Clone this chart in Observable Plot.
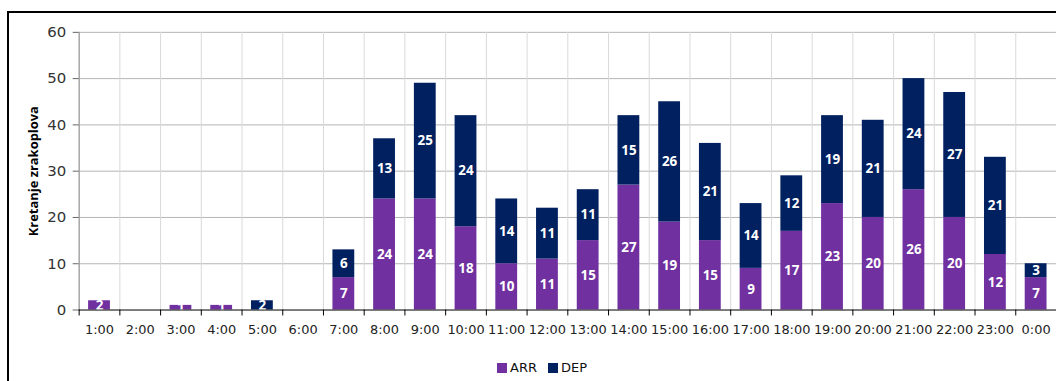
<!DOCTYPE html>
<html>
<head>
<meta charset="utf-8">
<script src="https://cdn.jsdelivr.net/npm/d3@7"></script>
<script src="https://cdn.jsdelivr.net/npm/@observablehq/plot@0.6"></script>
<style>
  html, body { margin: 0; padding: 0; background: #fff; overflow: hidden; width: 1056px; height: 381px; }
  #frame { position: absolute; left: 7px; top: 11px; width: 1100px; height: 400px; border-top: 2px solid #000; border-left: 2px solid #000; box-sizing: border-box; }
  #chart { position: absolute; left: 0; top: 0; }
  #legend { position: absolute; left: 497px; top: 360px; display: flex; align-items: center; font-family: "DejaVu Sans", sans-serif; font-size: 13px; color: #111; }
  .sw { width: 10px; height: 10px; display: inline-block; margin-right: 3px; }
  .item { display: flex; align-items: center; margin-right: 11px; }
</style>
</head>
<body>
<div id="frame"></div>
<div id="chart"></div>
<div id="legend"></div>
<script>
const hours = ["1:00","2:00","3:00","4:00","5:00","6:00","7:00","8:00","9:00","10:00","11:00","12:00",
               "13:00","14:00","15:00","16:00","17:00","18:00","19:00","20:00","21:00","22:00","23:00","0:00"];
const arrValues = [2,0,1,1,0,0,7,24,24,18,10,11,15,27,19,15,9,17,23,20,26,20,12,7];
const depValues = [0,0,0,0,2,0,6,13,25,24,14,11,11,15,26,21,14,12,19,21,24,27,21,3];
const seriesNames = ["ARR", "DEP"];
const seriesColors = ["#7030A0", "#002060"];
const yTicks = [0, 10, 20, 30, 40, 50, 60];
const yLabel = "Kretanje zrakoplova";

const data = hours.flatMap((h, i) => [
  {hour: h, series: "ARR", value: arrValues[i]},
  {hour: h, series: "DEP", value: depValues[i]}
]);

const W = 1061, ML = 79, MR = 0;
const step = (W - ML - MR) / hours.length;

const chart = Plot.plot({
  width: W,
  height: 345,
  marginLeft: ML,
  marginRight: MR,
  marginTop: 32,
  marginBottom: 34,
  style: {fontFamily: "DejaVu Sans, sans-serif", fontSize: "13px", color: "#333", background: "transparent", overflow: "visible"},
  x: {domain: hours, padding: 0, round: false, label: null},
  y: {domain: [0, 60], label: null},
  color: {domain: seriesNames, range: seriesColors},
  marks: [
    Plot.gridY(yTicks, {stroke: "#b4b4b4", strokeOpacity: 1}),
    Plot.gridX({stroke: "#d9d9d9", strokeOpacity: 1, dx: -step / 2}),
    Plot.barY(data, {x: "hour", y: "value", fill: "series", insetLeft: 9.5, insetRight: 9.5}),
    Plot.text(data, Plot.stackY({
      x: "hour", y: "value",
      text: d => d.value > 0 ? String(d.value) : "",
      fill: "white", fontWeight: "bold", fontFamily: "Open Sans, sans-serif", fontSize: 13.5
    })),
    Plot.frame({anchor: "left", stroke: "#8a8a8a"}),
    Plot.ruleY([0], {stroke: "#222"}),
    Plot.axisY(yTicks, {tickSize: 6, tickPadding: 7, stroke: "#666", fill: "#333", fontSize: 15, label: null}),
    Plot.axisX({tickSize: 6, dx: -step / 2, tickFormat: () => "", stroke: "#000", label: null}),
    Plot.axisX({tickSize: 0, tickPadding: 15, fill: "#222", fontSize: 13, label: null}),
    Plot.text([yLabel], {frameAnchor: "left", rotate: -90, dx: -46, text: d => d, fontWeight: "bold",
      fontFamily: "Open Sans, sans-serif", fontSize: 13, fill: "#000", textAnchor: "middle", lineAnchor: "middle"})
  ]
});
document.getElementById("chart").appendChild(chart);

const legend = document.getElementById("legend");
seriesNames.forEach((s, i) => {
  const item = document.createElement("span");
  item.className = "item";
  const sw = document.createElement("span");
  sw.className = "sw";
  sw.style.background = seriesColors[i];
  item.appendChild(sw);
  item.appendChild(document.createTextNode(s));
  legend.appendChild(item);
});
</script>
</body>
</html>
